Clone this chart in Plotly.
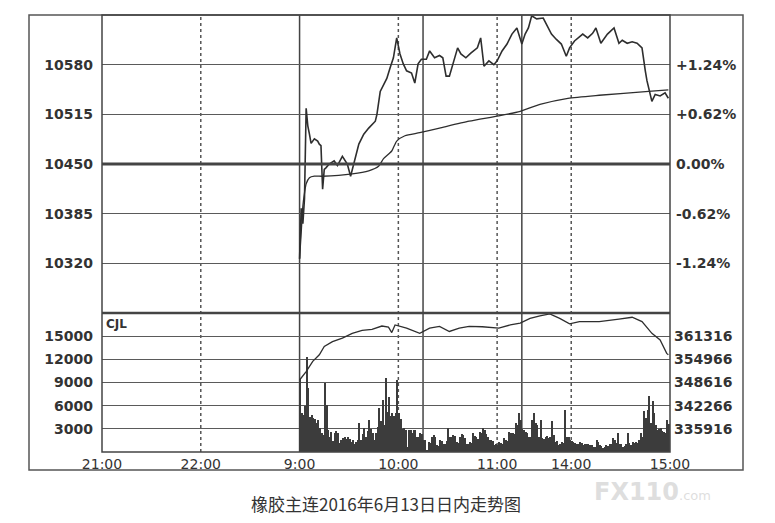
import plotly.graph_objects as go

# ---------------- data ----------------
# x positions: session minutes; night session 21:00-23:00 = 0..120 (no trades),
# day session trading minutes from 9:00 (10:15-10:30 and 11:30-13:30 skipped)
night_minutes = 120
tick_pos = [0, 60, 120, 180, 240, 285, 345]
tick_labels = ["21:00", "22:00", "9:00", "10:00", "11:00", "14:00", "15:00"]

base_price = 10450
price_ticks = [10320, 10385, 10450, 10515, 10580]

price_min = [0, 1, 2, 3, 4, 5, 6, 7, 9, 11, 12, 13, 14, 15, 16, 18, 21, 23, 26, 29, 31, 32, 33,
             36, 39, 42, 46, 47, 49, 50, 53, 55, 57, 59, 61, 63, 65, 68, 70, 72, 74, 77, 79,
             82, 85, 87, 89, 91, 93, 96, 98, 101, 104, 106, 108, 110, 112, 115, 118, 120, 123,
             126, 129, 132, 134, 135, 137, 139, 141, 144, 148, 150, 153, 156, 159, 162, 164,
             167, 172, 175, 178, 180, 183, 187, 191, 194, 196, 199, 202, 205, 208, 210, 211,
             214, 216, 219, 222, 224]
price_val = [10326, 10392, 10372, 10405, 10523, 10500, 10489, 10477, 10483, 10480, 10476, 10474,
             10417, 10443, 10445, 10450, 10454, 10448, 10460, 10450, 10434, 10442, 10450,
             10476, 10489, 10497, 10506, 10515, 10545, 10549, 10562, 10576, 10589, 10615,
             10594, 10581, 10572, 10569, 10556, 10581, 10587, 10587, 10598, 10589, 10592,
             10589, 10565, 10565, 10581, 10602, 10594, 10589, 10595, 10598, 10602, 10615,
             10578, 10585, 10580, 10585, 10598, 10607, 10620, 10628, 10615, 10607, 10620,
             10628, 10644, 10640, 10641, 10633, 10620, 10613, 10607, 10591, 10602, 10611,
             10620, 10615, 10621, 10628, 10608, 10620, 10628, 10608, 10612, 10608, 10610,
             10608, 10602, 10572, 10559, 10532, 10541, 10539, 10543, 10536]

avg_min = [0, 1, 2, 3, 4, 6, 9, 14, 32, 42, 48, 51, 56, 59, 64, 73, 85, 103, 121, 134, 146,
           163, 182, 212, 224]
avg_val = [10326, 10360, 10395, 10412, 10424, 10432, 10434, 10434, 10437, 10441, 10447,
           10457, 10467, 10480, 10487, 10491, 10497, 10506, 10513, 10519, 10528, 10536,
           10540, 10545, 10547]

vol_ticks = [3000, 6000, 9000, 12000, 15000]
volume = [
    9500, 5000, 4800, 6000, 12300, 8300, 4500, 4800, 4400, 4300, 3800, 4100, 3100, 2400, 2200,
    8900, 6100, 2800, 1900, 2600, 1400, 2400, 2700, 2500, 1200, 1500, 1800, 1900, 1700, 1900,
    1700, 1300, 1500, 1100, 1300, 1600, 3700, 1500, 2300, 3100, 2000, 2700, 4100, 3000, 2400,
    1600, 2400, 3200, 5700, 4000, 6700, 3500, 9600, 5200, 7100, 4600, 5000, 4700, 5100, 9300,
    5000, 4300, 3000, 3100, 2900, 700, 2900, 2800, 2400, 2900, 2800, 2000, 1900, 2400, 2300,
    1500, 1600, 300, 1300, 1200, 2000, 2200, 1900, 900, 800, 1500, 1400, 1100, 1000, 1400,
    3100, 2000, 1900, 2200, 2100, 1300, 1200, 2000, 2300, 2200, 1800, 1100, 1000, 1300, 1200,
    2400, 2100, 2000, 1700, 2600, 2400, 3100, 2800, 2300, 2000, 1500, 1600, 1400, 900, 1000,
    900, 1300, 1200, 1100, 1800, 1500, 1400, 2600, 2500, 2400, 2300, 3700, 3500, 5000, 4200,
    3000, 2800, 2600, 2500, 2000, 1900, 4200, 5000, 3700, 3500, 2000, 4200, 1800, 1700, 2000,
    2100, 1800, 1900, 4000, 2200, 1300, 1400, 900, 1000, 1300, 1200, 5500, 2000, 1900, 1500,
    1400, 1300, 1200, 1100, 1000, 1300, 1200, 900, 1000, 1100, 1000, 900, 900, 700, 700,
    1500, 1300, 900, 800, 500, 600, 900, 800, 1100, 1000, 1800, 1600, 1200, 2400, 1100,
    1000, 700, 800, 1000, 2400, 1200, 900, 1300, 1200, 1300, 1200, 1500, 2400, 2000, 5300,
    4400, 5500, 7300, 3700, 6600, 5000, 3500, 2900, 3000, 3100, 2700, 2600, 2500, 4200, 3600,
]

oi_ticks = [335916, 342266, 348616, 354966, 361316]
oi_min = [0, 4, 8, 12, 15, 20, 26, 32, 38, 44, 50, 54, 56, 58, 65, 73, 79, 85, 91, 97, 103,
          111, 121, 128, 134, 140, 146, 152, 158, 164, 170, 182, 194, 202, 208, 214, 219, 223, 224]
oi_val = [349300, 351600, 354400, 356200, 358500, 359800, 360800, 362100, 362900, 363200,
          364100, 363800, 362300, 364400, 363500, 362100, 363500, 364000, 362600, 363500,
          364000, 363900, 363500, 364400, 364900, 366200, 366900, 367400, 366200, 364700,
          365300, 365300, 366000, 366500, 365300, 362100, 360300, 356600, 356200]

caption = "橡胶主连2016年6月13日日内走势图"

# ---------------- figure ----------------
INK = "#2e2e2e"
GRID = "#5a5a5a"
FONT = dict(family="DejaVu Sans", size=14, color="#333333", weight="bold")

# the page adds an 8px body margin, so the figure is sized to fit the window exactly
PAGE_OFF = 8
W, H = 775 - PAGE_OFF, 523 - PAGE_OFF
PL, PR, PT, PB = 102, 670, 15, 452          # plot area in window pixels
PW, PH = PR - PL, PB - PT

fig = go.Figure()

fig.add_trace(go.Bar(
    x=[night_minutes + m + 0.5 for m in range(len(volume))], y=volume,
    width=0.85, marker=dict(color="#3c3c3c", line=dict(width=0)),
    xaxis="x", yaxis="y3", hoverinfo="skip"))
fig.add_trace(go.Scatter(
    x=[night_minutes + m for m in oi_min], y=oi_val, mode="lines",
    line=dict(color=INK, width=1.3), xaxis="x", yaxis="y4"))
fig.add_trace(go.Scatter(
    x=[night_minutes + m for m in avg_min], y=avg_val, mode="lines",
    line=dict(color=INK, width=1.3, shape="spline", smoothing=0.6), xaxis="x", yaxis="y"))
fig.add_trace(go.Scatter(
    x=[night_minutes + m for m in price_min], y=price_val, mode="lines",
    line=dict(color=INK, width=1.6), xaxis="x", yaxis="y"))
# dummy trace so that yaxis2 is shown
fig.add_trace(go.Scatter(x=[None], y=[None], xaxis="x", yaxis="y2", showlegend=False))

split = (PB - 313) / PH
p_lo, p_hi = base_price - 3 * 65, base_price + 3 * 65


def pct_label(p):
    v = (p - base_price) / base_price * 100
    return "0.00%" if abs(v) < 1e-9 else f"{v:+.2f}%"


def px_x(x):
    return (x - PL) / PW


def px_y(y):
    return (PB - y) / PH


common_y = dict(showline=False, zeroline=False, ticks="", tickfont=FONT, automargin=False,
                tickmode="array")

fig.update_layout(
    width=W, height=H,
    margin=dict(l=PL - PAGE_OFF, r=W - (PR - PAGE_OFF), t=PT - PAGE_OFF, b=H - (PB - PAGE_OFF)),
    paper_bgcolor="white", plot_bgcolor="white",
    showlegend=False, bargap=0,
    xaxis=dict(domain=[0, 1], range=[0, 345], anchor="y3", showgrid=False, zeroline=False,
               showline=False, tickmode="array", tickvals=tick_pos, ticktext=tick_labels,
               ticks="", tickfont=dict(family="DejaVu Sans", size=14, color="#333333"),
               ticklabelstandoff=2, automargin=False),
    yaxis=dict(domain=[split, 1], range=[p_lo, p_hi], anchor="x",
               tickvals=price_ticks, ticktext=[str(p) for p in price_ticks],
               showgrid=True, gridcolor=GRID, gridwidth=1,
               ticklabelstandoff=8, **common_y),
    yaxis2=dict(overlaying="y", side="right", range=[p_lo, p_hi], anchor="x",
                tickvals=price_ticks,
                ticktext=[pct_label(p) for p in price_ticks], showgrid=False,
                ticklabelstandoff=5, **common_y),
    yaxis3=dict(domain=[0, split], range=[0, 18000], anchor="x",
                tickvals=vol_ticks, ticktext=[str(v) for v in vol_ticks],
                showgrid=True, gridcolor=GRID, gridwidth=1,
                ticklabelstandoff=8, **common_y),
    yaxis4=dict(overlaying="y3", side="right", range=[oi_ticks[0] - 6350, oi_ticks[-1] + 6350],
                anchor="x", tickvals=oi_ticks, ticktext=[str(v) for v in oi_ticks],
                showgrid=False, ticklabelstandoff=3, **common_y),
)

shapes = []
# outer frame
shapes.append(dict(type="rect", xref="paper", yref="paper", x0=px_x(29), x1=px_x(743),
                   y0=px_y(470), y1=1, line=dict(color="#555555", width=1.5)))
# plot border
shapes.append(dict(type="rect", xref="paper", yref="paper", x0=0, x1=1, y0=0, y1=1,
                   line=dict(color="#444444", width=1.5)))
# panel separator
shapes.append(dict(type="line", xref="paper", yref="paper", x0=0, x1=1, y0=split, y1=split,
                   line=dict(color="#444444", width=2.5)))
# base price line
shapes.append(dict(type="line", xref="paper", yref="y", x0=0, x1=1, y0=base_price, y1=base_price,
                   line=dict(color="#444444", width=3)))
# session separators (solid) and hour lines (dotted)
for xv in [night_minutes, night_minutes + 75, night_minutes + 135]:
    shapes.append(dict(type="line", xref="x", yref="paper", x0=xv, x1=xv, y0=0, y1=1,
                       line=dict(color="#444444", width=1.5), layer="below"))
for xv in [60, 180, 240, 285]:
    shapes.append(dict(type="line", xref="x", yref="paper", x0=xv, x1=xv, y0=0, y1=1,
                       line=dict(color="#555555", width=1.5, dash="dot"), layer="below"))
fig.update_layout(shapes=shapes)

fig.add_annotation(text="CJL", xref="paper", yref="paper", x=px_x(104), y=px_y(315),
                   xanchor="left", yanchor="top", showarrow=False,
                   font=dict(family="DejaVu Sans", size=12, color="#333333", weight="bold"))
fig.add_annotation(text=caption, xref="paper", yref="paper", x=px_x(386),
                   y=px_y(503), xanchor="center", yanchor="middle", showarrow=False,
                   font=dict(family="Noto Sans CJK SC", size=17, color="#333333"))
fig.add_annotation(text="<b>FX110</b><span style='font-size:13px'>.com</span>", xref="paper",
                   yref="paper", x=px_x(652), y=px_y(492),
                   xanchor="center", yanchor="middle", showarrow=False,
                   font=dict(family="DejaVu Sans", size=24, color="rgba(200,200,200,0.6)"))

fig.write_html("out.html")
